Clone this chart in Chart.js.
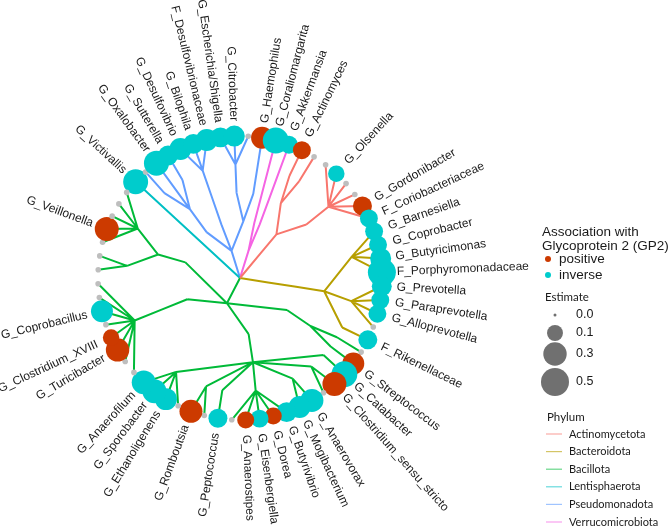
<!DOCTYPE html>
<html>
<head>
<meta charset="utf-8">
<script src="https://cdn.jsdelivr.net/npm/chart.js@4.4.0/dist/chart.umd.min.js"></script>
<style>
  html, body { margin: 0; padding: 0; background: #fff; }
</style>
</head>
<body>
<canvas id="tree" width="669" height="530"></canvas>
<script>
// tips, clockwise round the circle starting at G_Victivallis ('' = tip without label)
var tipLabels = [
  'G_Victivallis', '', 'G_Oxalobacter', 'G_Sutterella', 'G_Desulfovibrio', 'G_Bilophila',
  'F_Desulfovibrionaceae', 'G_Escherichia/Shigella', 'G_Citrobacter', '', 'G_Haemophilus',
  'G_Coraliomargarita', 'G_Akkermansia',
  'G_Actinomyces', '', '', 'G_Olsenella', '', '', 'G_Gordonibacter', 'F_Coriobacteriaceae',
  'G_Barnesiella', 'G_Coprobacter', 'G_Butyricimonas', 'F_Porphyromonadaceae', 'G_Prevotella',
  'G_Paraprevotella', 'G_Alloprevotella', '', 'F_Rikenellaceae',
  '', 'G_Streptococcus', 'G_Catabacter', 'G_Clostridium_sensu_stricto', '', 'G_Anaerovorax',
  'G_Mogibacterium', 'G_Butyrivibrio', 'G_Dorea', 'G_Eisenbergiella', 'G_Anaerostipes', '',
  'G_Peptococcus', '', 'G_Romboutsia', '', 'G_Ethanoligenens', 'G_Sporobacter', 'G_Anaerofilum',
  '', '', 'G_Turicibacter', 'G_Clostridium_XVIII', '', 'G_Coprobacillus', '', '', '', '', '',
  'G_Veillonella', '', '', ''
];

// estimate per tip: > 0 positive, < 0 inverse, null = not associated (grey dot)
var tipEstimate = [
  -0.36, null, -0.36, -0.19, -0.25, -0.19, -0.25, -0.19, -0.22, null, 0.25,
  -0.40, -0.14,
  0.14, null, null, -0.11, null, null, 0.165, -0.14,
  -0.14, -0.14, -0.22, -0.50, -0.19, -0.14, -0.14, null, -0.165,
  null, 0.25, -0.40, 0.32, null, -0.285, -0.25, -0.19, 0.12, -0.14, 0.12, null,
  -0.165, null, 0.285, null, -0.25, -0.32, -0.32, null, null, 0.30, 0.11, null,
  -0.25, null, null, null, null, null, 0.32, null, null, null
];

// phylum / class / order / family of each tip
var tipLineage = [
  'Lentisphaerota/Lentisphaeria/Victivallales/Victivallaceae',
  'Pseudomonadota/Betaproteobacteria/Burkholderiales/Burkholderiaceae',
  'Pseudomonadota/Betaproteobacteria/Burkholderiales/Oxalobacteraceae',
  'Pseudomonadota/Betaproteobacteria/Burkholderiales/Sutterellaceae',
  'Pseudomonadota/Deltaproteobacteria/Desulfovibrionales/Desulfovibrionaceae',
  'Pseudomonadota/Deltaproteobacteria/Desulfovibrionales/Desulfovibrionaceae',
  'Pseudomonadota/Deltaproteobacteria/Desulfovibrionales/Desulfovibrionaceae',
  'Pseudomonadota/Gammaproteobacteria/Enterobacterales/Enterobacteriaceae',
  'Pseudomonadota/Gammaproteobacteria/Enterobacterales/Enterobacteriaceae',
  'Pseudomonadota/Gammaproteobacteria/Enterobacterales/Enterobacteriaceae',
  'Pseudomonadota/Gammaproteobacteria/Pasteurellales/Pasteurellaceae',
  'Verrucomicrobiota/Opitutae/Puniceicoccales/Puniceicoccaceae',
  'Verrucomicrobiota/Verrucomicrobiae/Verrucomicrobiales/Akkermansiaceae',
  'Actinomycetota/Actinobacteria/Actinomycetales/Actinomycetaceae',
  'Actinomycetota/Actinobacteria/Actinomycetales/Micrococcaceae',
  'Actinomycetota/Actinobacteria/Coriobacteriales/Coriobacteriaceae',
  'Actinomycetota/Actinobacteria/Coriobacteriales/Coriobacteriaceae',
  'Actinomycetota/Actinobacteria/Coriobacteriales/Coriobacteriaceae',
  'Actinomycetota/Actinobacteria/Coriobacteriales/Coriobacteriaceae',
  'Actinomycetota/Actinobacteria/Coriobacteriales/Coriobacteriaceae',
  'Actinomycetota/Actinobacteria/Coriobacteriales/Coriobacteriaceae',
  'Bacteroidota/Bacteroidia/Bacteroidales/Porphyromonadaceae',
  'Bacteroidota/Bacteroidia/Bacteroidales/Porphyromonadaceae',
  'Bacteroidota/Bacteroidia/Bacteroidales/Porphyromonadaceae',
  'Bacteroidota/Bacteroidia/Bacteroidales/Porphyromonadaceae',
  'Bacteroidota/Bacteroidia/Bacteroidales/Prevotellaceae',
  'Bacteroidota/Bacteroidia/Bacteroidales/Prevotellaceae',
  'Bacteroidota/Bacteroidia/Bacteroidales/Prevotellaceae',
  'Bacteroidota/Bacteroidia/Bacteroidales/Prevotellaceae',
  'Bacteroidota/Bacteroidia/Bacteroidales/Rikenellaceae',
  'Bacillota/Bacilli/Lactobacillales/Lactobacillaceae',
  'Bacillota/Bacilli/Lactobacillales/Streptococcaceae',
  'Bacillota/Clostridia/Clostridiales/Catabacteriaceae',
  'Bacillota/Clostridia/Clostridiales/Clostridiaceae_1',
  'Bacillota/Clostridia/Clostridiales/Clostridiaceae_1',
  'Bacillota/Clostridia/Clostridiales/Incertae_Sedis_XIII',
  'Bacillota/Clostridia/Clostridiales/Incertae_Sedis_XIII',
  'Bacillota/Clostridia/Clostridiales/Lachnospiraceae',
  'Bacillota/Clostridia/Clostridiales/Lachnospiraceae',
  'Bacillota/Clostridia/Clostridiales/Lachnospiraceae',
  'Bacillota/Clostridia/Clostridiales/Lachnospiraceae',
  'Bacillota/Clostridia/Clostridiales/Lachnospiraceae',
  'Bacillota/Clostridia/Clostridiales/Peptococcaceae',
  'Bacillota/Clostridia/Clostridiales/Peptostreptococcaceae',
  'Bacillota/Clostridia/Clostridiales/Peptostreptococcaceae',
  'Bacillota/Clostridia/Clostridiales/Ruminococcaceae',
  'Bacillota/Clostridia/Clostridiales/Ruminococcaceae',
  'Bacillota/Clostridia/Clostridiales/Ruminococcaceae',
  'Bacillota/Clostridia/Clostridiales/Ruminococcaceae',
  'Bacillota/Erysipelotrichia/Erysipelotrichales/Erysipelotrichaceae',
  'Bacillota/Erysipelotrichia/Erysipelotrichales/Erysipelotrichaceae',
  'Bacillota/Erysipelotrichia/Erysipelotrichales/Erysipelotrichaceae',
  'Bacillota/Erysipelotrichia/Erysipelotrichales/Erysipelotrichaceae',
  'Bacillota/Erysipelotrichia/Erysipelotrichales/Erysipelotrichaceae',
  'Bacillota/Erysipelotrichia/Erysipelotrichales/Erysipelotrichaceae',
  'Bacillota/Erysipelotrichia/Erysipelotrichales/Erysipelotrichaceae',
  'Bacillota/Erysipelotrichia/Erysipelotrichales/Erysipelotrichaceae',
  'Bacillota/Negativicutes/Selenomonadales/Acidaminococcaceae',
  'Bacillota/Negativicutes/Selenomonadales/Acidaminococcaceae',
  'Bacillota/Negativicutes/Selenomonadales/Veillonellaceae',
  'Bacillota/Negativicutes/Selenomonadales/Veillonellaceae',
  'Bacillota/Negativicutes/Selenomonadales/Veillonellaceae',
  'Bacillota/Negativicutes/Selenomonadales/Veillonellaceae',
  'Bacillota/Negativicutes/Selenomonadales/Veillonellaceae'
];

var phyla = ['Actinomycetota', 'Bacteroidota', 'Bacillota', 'Lentisphaerota', 'Pseudomonadota', 'Verrucomicrobiota'];
var phylumColors = ['#F8766D', '#B79F00', '#00BA38', '#00BFC4', '#619CFF', '#F564E3'];
var signLabels = ['positive', 'inverse'];
var signColors = ['#CC3A00', '#00CCCC'];
var sizeBreaks = [0.0, 0.1, 0.3, 0.5];

// layout
var N = tipLabels.length;
var startAngle = 137.3;            // degrees, first tip
var step = 360 / N;
var pxPerUnit = 28.4;              // one taxonomic level
var centre = { x: 240, y: 278 };
var W = 669, H = 530;

function sizeOf(v) {
  return Math.max(1.5, 14 * Math.pow(v / 0.5, 0.35));
}

function polar(r, y) {
  var a = (startAngle - y * step) * Math.PI / 180;
  return { x: r * Math.cos(a), y: r * Math.sin(a) };
}

// build the taxonomy tree
var root = { level: 0, kids: [], map: {} };
tipLineage.forEach(function(lin, i) {
  var parts = lin.split('/');
  var node = root;
  parts.forEach(function(name, l) {
    if (!node.map[name]) {
      var n = { level: l + 1, kids: [], map: {}, phylum: parts[0] };
      node.map[name] = n;
      node.kids.push(n);
    }
    node = node.map[name];
  });
  node.kids.push({ level: 5, kids: [], y: i, phylum: parts[0] });
});

function setY(n) {
  if (n.kids.length === 0) return n.y;
  var s = 0;
  n.kids.forEach(function(k) { s += setY(k); });
  n.y = s / n.kids.length;
  return n.y;
}
setY(root);

// edges grouped by phylum, broken by nulls
var edgeData = {};
phyla.forEach(function(p) { edgeData[p] = []; });
function collect(n) {
  var a = polar(n.level, n.y);
  n.kids.forEach(function(k) {
    var b = polar(k.level, k.y);
    var arr = edgeData[k.phylum];
    arr.push({ x: a.x, y: a.y }, { x: b.x, y: b.y }, { x: b.x, y: null });
    collect(k);
  });
}
collect(root);

var tipPoints = tipLabels.map(function(lab, i) {
  var p = polar(5, i);
  var e = tipEstimate[i];
  return { x: p.x, y: p.y, r: e === null ? 2.8 : sizeOf(Math.abs(e)) };
});
var tipColors = tipEstimate.map(function(e) {
  if (e === null) return '#BEBEBE';
  return e > 0 ? signColors[0] : signColors[1];
});

var datasets = [{
  type: 'bubble',
  data: tipPoints,
  backgroundColor: tipColors,
  borderWidth: 0,
  clip: false,
  order: 0
}];
phyla.forEach(function(p, i) {
  datasets.push({
    type: 'line',
    data: edgeData[p],
    borderColor: phylumColors[i],
    borderWidth: 2,
    pointRadius: 0,
    spanGaps: false,
    tension: 0,
    clip: false,
    order: 1
  });
});

// tip labels
var tipLabelPlugin = {
  id: 'tipLabels',
  afterDatasetsDraw: function(chart) {
    var ctx = chart.ctx, xs = chart.scales.x, ys = chart.scales.y;
    var rl = 157 / pxPerUnit;
    ctx.save();
    ctx.font = '12px "Liberation Sans", Arial, sans-serif';
    ctx.fillStyle = '#1a1a1a';
    ctx.textBaseline = 'middle';
    tipLabels.forEach(function(lab, i) {
      if (!lab) return;
      var p = polar(rl, i);
      var a = (startAngle - i * step) * Math.PI / 180;
      ctx.save();
      ctx.translate(xs.getPixelForValue(p.x), ys.getPixelForValue(p.y));
      if (Math.cos(a) >= 0) {
        ctx.rotate(-a);
        ctx.textAlign = 'left';
      } else {
        ctx.rotate(Math.PI - a);
        ctx.textAlign = 'right';
      }
      ctx.fillText(lab, 0, 0);
      ctx.restore();
    });
    ctx.restore();
  }
};

// legends at the right
var legendPlugin = {
  id: 'sideLegend',
  afterDraw: function(chart) {
    var ctx = chart.ctx;
    ctx.save();
    ctx.textBaseline = 'middle';
    ctx.textAlign = 'left';
    ctx.fillStyle = '#1a1a1a';
    ctx.font = '13.5px "Liberation Sans", Arial, sans-serif';
    ctx.fillText('Association with', 542, 232);
    ctx.fillText('Glycoprotein 2 (GP2)', 542, 246);
    signLabels.forEach(function(s, i) {
      var y = 259 + i * 16;
      ctx.fillStyle = signColors[i];
      ctx.beginPath();
      ctx.arc(548, y, 3, 0, Math.PI * 2);
      ctx.fill();
      ctx.fillStyle = '#1a1a1a';
      ctx.fillText(s, 559, y);
    });

    ctx.font = '11.5px Lato, "Open Sans", sans-serif';
    ctx.fillText('Estimate', 545, 297);
    var sy = [315, 333, 354, 382];
    sizeBreaks.forEach(function(v, i) {
      ctx.fillStyle = '#707070';
      ctx.beginPath();
      ctx.arc(555, sy[i], sizeOf(v), 0, Math.PI * 2);
      ctx.fill();
      ctx.fillStyle = '#1a1a1a';
      ctx.font = '12.5px "Liberation Sans", Arial, sans-serif';
      ctx.fillText(v.toFixed(1), 576, sy[i]);
    });

    ctx.font = '11.5px Lato, "Open Sans", sans-serif';
    ctx.fillText('Phylum', 547, 417);
    ctx.font = '11px Lato, "Open Sans", sans-serif';
    phyla.forEach(function(p, i) {
      var y = 434 + i * 17.6;
      ctx.strokeStyle = phylumColors[i];
      ctx.globalAlpha = 0.6;
      ctx.lineWidth = 1.2;
      ctx.beginPath();
      ctx.moveTo(546, y);
      ctx.lineTo(562, y);
      ctx.stroke();
      ctx.globalAlpha = 1;
      ctx.fillText(p, 569, y);
    });
    ctx.restore();
  }
};

var chart = new Chart(document.getElementById('tree'), {
  type: 'scatter',
  data: { datasets: datasets },
  options: {
    responsive: false,
    animation: false,
    events: [],
    layout: { padding: 0 },
    plugins: { legend: { display: false }, tooltip: { enabled: false } },
    scales: {
      x: { type: 'linear', display: false, min: -centre.x / pxPerUnit, max: (W - centre.x) / pxPerUnit },
      y: { type: 'linear', display: false, min: -(H - centre.y) / pxPerUnit, max: centre.y / pxPerUnit }
    }
  },
  plugins: [tipLabelPlugin, legendPlugin]
});

// the bubbles make Chart.js inset the plot area; map the scales onto the real area
var ca = chart.chartArea;
chart.options.scales.x.min = (ca.left - centre.x) / pxPerUnit;
chart.options.scales.x.max = (ca.right - centre.x) / pxPerUnit;
chart.options.scales.y.min = (centre.y - ca.bottom) / pxPerUnit;
chart.options.scales.y.max = (centre.y - ca.top) / pxPerUnit;
chart.update();
</script>
</body>
</html>
